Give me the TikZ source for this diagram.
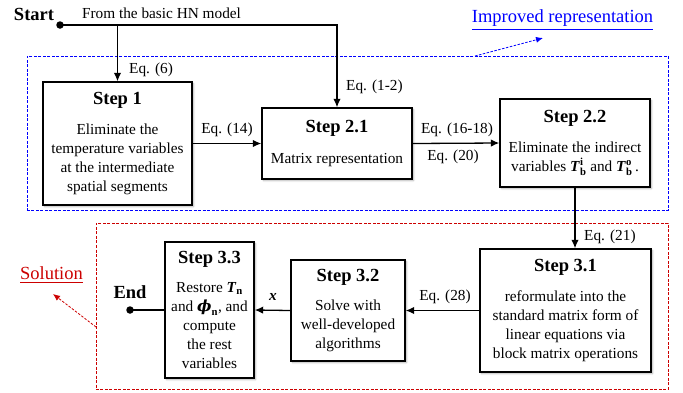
\documentclass[tikz,border=0pt]{standalone}
\usepackage{amsmath}
\usepackage{fontspec}
\setmainfont{Liberation Serif}
\newfontfamily\phifont{DejaVu Serif}
\usetikzlibrary{arrows.meta,shadows.blur}
\newcommand\bodyfont{\fontsize{15.3bp}{19bp}\selectfont}
\newcommand\titlefont{\fontsize{18.5bp}{22bp}\selectfont\bfseries}
\newcommand\bT{\textbf{\textit{T}}}
\newcommand\bphi{\text{\phifont\bfseries\itshape ϕ}}
\newcommand\bsub[1]{\textbf{#1}}
\begin{document}
\begin{tikzpicture}[x=1bp,y=-1bp,
  stepbox/.style={draw, line width=1.4bp, fill=white, align=center, inner sep=0pt,
    font=\bodyfont,
    blur shadow={shadow xshift=1.5bp, shadow yshift=-1.5bp, shadow blur steps=6, shadow opacity=30}},
  conn/.style={line width=1.3bp, -{Latex[length=8.5bp,width=7.5bp]}},
  plain/.style={line width=1.3bp},
  lbl/.style={font=\bodyfont, inner sep=0pt},
  dot/.style={circle, fill, inner sep=0pt, minimum size=7.5bp},
  frame/.style={draw, line width=0.7bp, dash pattern=on 3bp off 1.5bp, inner sep=0pt}]
\useasboundingbox (0,0) rectangle (683,392);

% group frames
\node[frame, blue, minimum width=641bp, minimum height=154bp] (imp) at (347.5,133) {};
\node[frame, red!80!black, minimum width=572bp, minimum height=166bp] (sol) at (382,306) {};

% group captions
\node[font=\fontsize{18.5bp}{22bp}\selectfont, text=blue, inner sep=0pt] (imptext) at (562.5,20) {\underline{Improved representation}};
\node[font=\fontsize{18.5bp}{22bp}\selectfont, text=red!80!black, inner sep=0pt] (soltext) at (51.5,275) {\underline{Solution}};
\coordinate (impTail) at (475,56);
\coordinate (impTip) at (543,38);
\coordinate (solTail) at (96,327);
\coordinate (solTip) at (53,294);
\draw[blue, line width=0.8bp, dash pattern=on 2.5bp off 1.5bp, -{Latex[length=7bp,width=6bp]}] (impTail) -- (impTip);
\draw[red!80!black, line width=0.8bp, dash pattern=on 2.5bp off 1.5bp, -{Latex[length=7bp,width=6bp]}] (solTail) -- (solTip);

% steps
\node[stepbox, minimum width=149bp, minimum height=123bp] (s1) at (117.5,143.5)
  {{\titlefont Step 1}\\[11bp] Eliminate the\\ temperature variables\\ at the intermediate\\ spatial segments};
\node[stepbox, minimum width=150bp, minimum height=71bp] (s21) at (337,143.5)
  {{\titlefont Step 2.1}\\[12bp] Matrix representation};
\node[stepbox, minimum width=150bp, minimum height=88bp] (s22) at (575,143)
  {{\titlefont Step 2.2}\\[11bp] Eliminate the indirect\\ variables $\bT^{\bsub{i}}_{\bsub{b}}$ and $\bT^{\bsub{o}}_{\bsub{b}}$\,.};
\node[stepbox, minimum width=171bp, minimum height=123bp] (s31) at (565.5,310.5)
  {{\titlefont Step 3.1}\\[11bp] reformulate into the\\ standard matrix form of\\ linear equations via\\ block matrix operations};
\node[stepbox, minimum width=114bp, minimum height=101bp] (s32) at (348,310.5)
  {{\titlefont Step 3.2}\\[10bp] Solve with\\ well-developed\\ algorithms};
\node[stepbox, minimum width=89bp, minimum height=136bp] (s33) at (209.5,310)
  {{\titlefont Step 3.3}\\[10bp] Restore $\bT_{\bsub{n}}$\\ and $\bphi_{\bsub{n}}$, and\\ compute\\ the rest\\ variables};

% start and end
\node[font=\titlefont, inner sep=0pt] (start) at (34,14) {Start};
\node[dot] (sdot) at (60,25) {};
\node[lbl] (hn) at (161.5,13) {From the basic HN model};
\node[font=\titlefont, inner sep=0pt] (end) at (130,292) {End};
\node[dot] (edot) at (130,310) {};

% connectors
\draw[conn] (sdot.center) -| (s21.north);
\draw[conn] (s1.north |- sdot) -- (s1.north);
\draw[conn] (s1.east) -- (s21.west);
\draw[conn] (s21.east) -- (s22.west);
\draw[conn] (s22.south) -- (s22.south |- s31.north);
\draw[conn] (s31.west) -- (s32.east);
\draw[conn] (s32.west) -- (s33.east);
\draw[plain] (s33.west) -- (edot.center);

% connector labels
\node[lbl, anchor=west] (l6) at (129,70) {Eq. (6)};
\node[lbl, anchor=west] (l12) at (346,87) {Eq. (1-2)};
\node[lbl] (l14) at (227,130) {Eq. (14)};
\node[lbl] (l1618) at (457,130) {Eq. (16-18)};
\node[lbl] (l20) at (453,157) {Eq. (20)};
\node[lbl, anchor=west] (l21) at (584,237) {Eq. (21)};
\node[lbl] (l28) at (445,297) {Eq. (28)};
\node[lbl] (lx) at (273,297) {\textbf{\textit{x}}};
\end{tikzpicture}
\end{document}
